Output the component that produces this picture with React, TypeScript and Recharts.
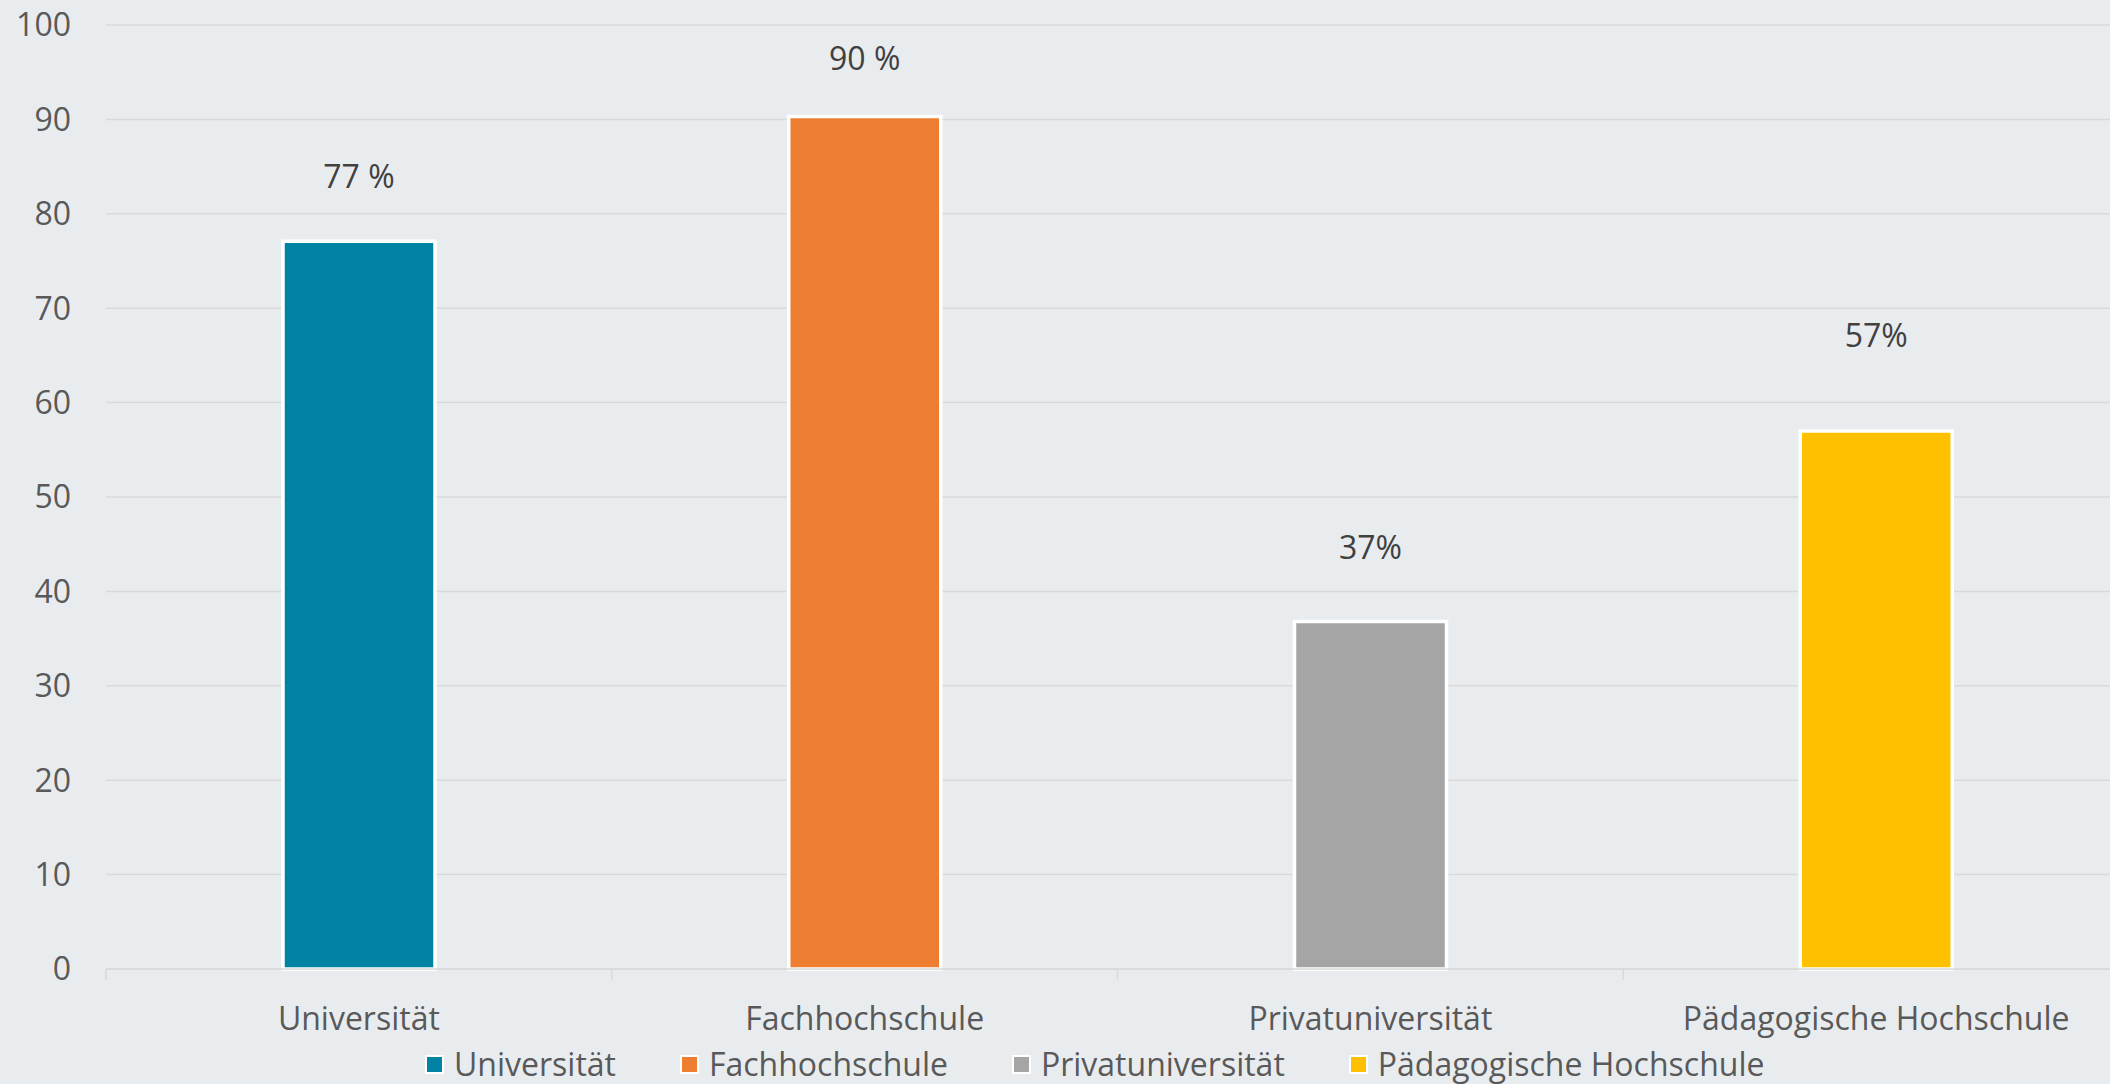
import React from 'react';
import {
  BarChart,
  Bar,
  XAxis,
  YAxis,
  CartesianGrid,
  Legend,
  Cell,
  LabelList,
} from 'recharts';

const categories = ['Universität', 'Fachhochschule', 'Privatuniversität', 'Pädagogische Hochschule'];
const shares = [77.1, 90.3, 36.8, 57.0];
const shareLabels = ['77 %', '90 %', '37%', '57%'];
const barColors = ['#0083A3', '#ED7D31', '#A5A5A5', '#FFC000'];
const yTicks = [0, 10, 20, 30, 40, 50, 60, 70, 80, 90, 100];

// label distance above each bar top (the source places them by hand)
const labelLift = [66, 59, 75, 96];

const data = categories.map((name, i) => ({ name, value: shares[i], label: shareLabels[i] }));

const font = '"Open Sans", sans-serif';
const gridColor = '#d9d9d9';
const textColor = '#595959';

const ValueLabel = (props: any) => {
  const { x, y, width, index } = props;
  return (
    <text
      x={x + width / 2}
      y={y - labelLift[index]}
      textAnchor="middle"
      dominantBaseline="central"
      fontFamily={font}
      fontSize={32}
      fill="#404040"
    >
      {shareLabels[index]}
    </text>
  );
};

// category name plus the little tick mark on the left edge of its band
const CategoryTick = (props: any) => {
  const { x, y, payload } = props;
  const half = payload && payload.offset ? payload.offset : 0;
  return (
    <g>
      {half > 0 && (
        <line x1={x - half} x2={x - half} y1={y} y2={y + 11} stroke={gridColor} strokeWidth={1.5} />
      )}
      <text
        x={x}
        y={y + 38}
        dy="0.71em"
        textAnchor="middle"
        fontFamily={font}
        fontSize={32}
        fill={textColor}
      >
        {payload.value}
      </text>
    </g>
  );
};

const LegendContent = () => (
  <div
    style={{
      display: 'flex',
      alignItems: 'center',
      height: 36,
      lineHeight: '36px',
      fontFamily: font,
      fontSize: 32,
      color: textColor,
      whiteSpace: 'nowrap',
    }}
  >
    {categories.map((c, i) => (
      <div key={c} style={{ display: 'flex', alignItems: 'center', marginRight: 64 }}>
        <span
          style={{
            display: 'inline-block',
            width: 15,
            height: 15,
            background: barColors[i],
            border: '2px solid #fff',
            marginRight: 10,
          }}
        />
        <span>{c}</span>
      </div>
    ))}
  </div>
);

export default function App() {
  return (
    <div
      style={{
        position: 'absolute',
        left: 0,
        top: 0,
        width: 2110,
        height: 1084,
        overflow: 'hidden',
        background: '#e9ecef',
      }}
    >
      <BarChart
        width={2129}
        height={1084}
        data={data}
        margin={{ top: 25, right: 0, left: 0, bottom: 2 }}
      >
        <CartesianGrid vertical={false} stroke={gridColor} strokeWidth={1.5} />
        <XAxis
          dataKey="name"
          height={77}
          axisLine={{ stroke: gridColor, strokeWidth: 1.5 }}
          tickLine={false}
          tickSize={0}
          tickMargin={0}
          tick={<CategoryTick />}
          interval={0}
        />
        <YAxis
          width={106}
          domain={[0, 100]}
          ticks={yTicks}
          axisLine={false}
          tickLine={false}
          tickSize={0}
          tickMargin={35}
          tick={{ fontFamily: font, fontSize: 32, fill: textColor }}
        />
        <Legend
          verticalAlign="bottom"
          content={<LegendContent />}
          wrapperStyle={{ left: 425, width: 1600, height: 36 }}
        />
        <Bar
          dataKey="value"
          barSize={152}
          stroke="#fff"
          strokeWidth={3.5}
          isAnimationActive={false}
        >
          {data.map((d, i) => (
            <Cell key={d.name} fill={barColors[i]} />
          ))}
          <LabelList dataKey="label" content={<ValueLabel />} />
        </Bar>
      </BarChart>
    </div>
  );
}
